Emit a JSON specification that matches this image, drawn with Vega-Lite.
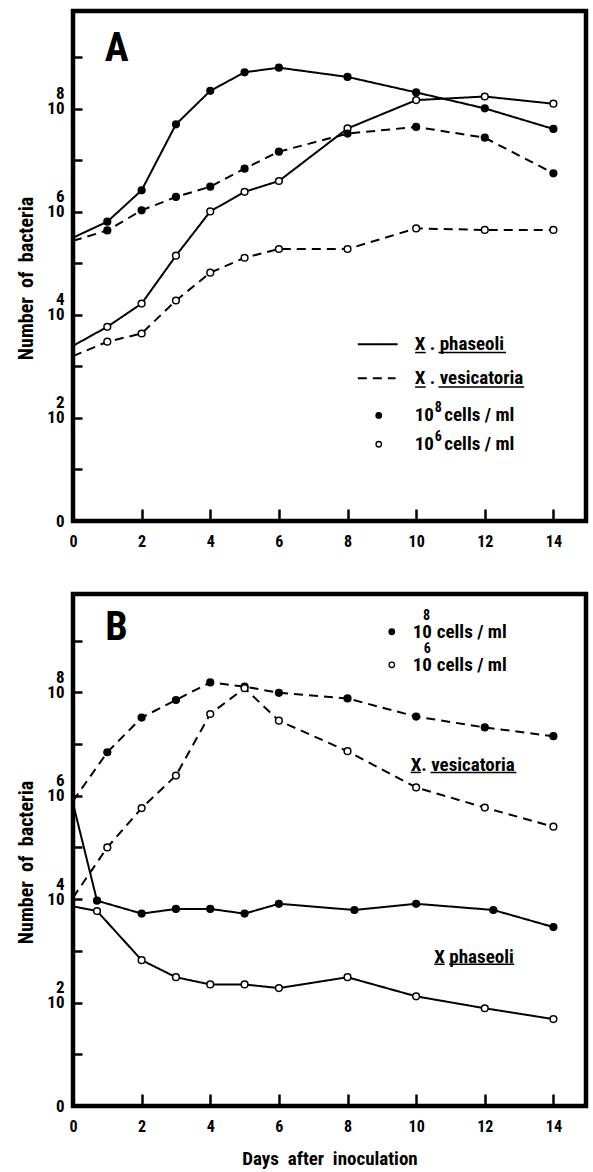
{
  "$schema": "https://vega.github.io/schema/vega-lite/v6.json",
  "background": "white",
  "padding": {"left": 13, "top": 8, "right": 4, "bottom": 0},
  "bounds": "flush",
  "spacing": 73,
  "config": {
    "font": "'Roboto Condensed', 'Liberation Sans', Arial, sans-serif",
    "view": {"stroke": "black", "strokeWidth": 4.5},
    "axis": {"domain": false, "grid": false, "labelColor": "black", "titleColor": "black", "tickColor": "black", "labelFontWeight": "bold", "titleFontWeight": "bold"}
  },
  "datasets": {
    "series": [
      {"panel": "A", "species": "X. phaseoli", "inoculum": "10^8 cells/ml", "day": 0, "log10_count": 5.50},
      {"panel": "A", "species": "X. phaseoli", "inoculum": "10^8 cells/ml", "day": 1, "log10_count": 5.81},
      {"panel": "A", "species": "X. phaseoli", "inoculum": "10^8 cells/ml", "day": 2, "log10_count": 6.42},
      {"panel": "A", "species": "X. phaseoli", "inoculum": "10^8 cells/ml", "day": 3, "log10_count": 7.70},
      {"panel": "A", "species": "X. phaseoli", "inoculum": "10^8 cells/ml", "day": 4, "log10_count": 8.35},
      {"panel": "A", "species": "X. phaseoli", "inoculum": "10^8 cells/ml", "day": 5, "log10_count": 8.71},
      {"panel": "A", "species": "X. phaseoli", "inoculum": "10^8 cells/ml", "day": 6, "log10_count": 8.80},
      {"panel": "A", "species": "X. phaseoli", "inoculum": "10^8 cells/ml", "day": 8, "log10_count": 8.62},
      {"panel": "A", "species": "X. phaseoli", "inoculum": "10^8 cells/ml", "day": 10, "log10_count": 8.32},
      {"panel": "A", "species": "X. phaseoli", "inoculum": "10^8 cells/ml", "day": 12, "log10_count": 8.01},
      {"panel": "A", "species": "X. phaseoli", "inoculum": "10^8 cells/ml", "day": 14, "log10_count": 7.61},
      {"panel": "A", "species": "X. phaseoli", "inoculum": "10^6 cells/ml", "day": 0, "log10_count": 3.40},
      {"panel": "A", "species": "X. phaseoli", "inoculum": "10^6 cells/ml", "day": 1, "log10_count": 3.77},
      {"panel": "A", "species": "X. phaseoli", "inoculum": "10^6 cells/ml", "day": 2, "log10_count": 4.22},
      {"panel": "A", "species": "X. phaseoli", "inoculum": "10^6 cells/ml", "day": 3, "log10_count": 5.15},
      {"panel": "A", "species": "X. phaseoli", "inoculum": "10^6 cells/ml", "day": 4, "log10_count": 6.01},
      {"panel": "A", "species": "X. phaseoli", "inoculum": "10^6 cells/ml", "day": 5, "log10_count": 6.39},
      {"panel": "A", "species": "X. phaseoli", "inoculum": "10^6 cells/ml", "day": 6, "log10_count": 6.60},
      {"panel": "A", "species": "X. phaseoli", "inoculum": "10^6 cells/ml", "day": 8, "log10_count": 7.62},
      {"panel": "A", "species": "X. phaseoli", "inoculum": "10^6 cells/ml", "day": 10, "log10_count": 8.17},
      {"panel": "A", "species": "X. phaseoli", "inoculum": "10^6 cells/ml", "day": 12, "log10_count": 8.24},
      {"panel": "A", "species": "X. phaseoli", "inoculum": "10^6 cells/ml", "day": 14, "log10_count": 8.10},
      {"panel": "A", "species": "X. vesicatoria", "inoculum": "10^8 cells/ml", "day": 0, "log10_count": 5.44},
      {"panel": "A", "species": "X. vesicatoria", "inoculum": "10^8 cells/ml", "day": 1, "log10_count": 5.64},
      {"panel": "A", "species": "X. vesicatoria", "inoculum": "10^8 cells/ml", "day": 2, "log10_count": 6.03},
      {"panel": "A", "species": "X. vesicatoria", "inoculum": "10^8 cells/ml", "day": 3, "log10_count": 6.29},
      {"panel": "A", "species": "X. vesicatoria", "inoculum": "10^8 cells/ml", "day": 4, "log10_count": 6.49},
      {"panel": "A", "species": "X. vesicatoria", "inoculum": "10^8 cells/ml", "day": 5, "log10_count": 6.84},
      {"panel": "A", "species": "X. vesicatoria", "inoculum": "10^8 cells/ml", "day": 6, "log10_count": 7.17},
      {"panel": "A", "species": "X. vesicatoria", "inoculum": "10^8 cells/ml", "day": 8, "log10_count": 7.52},
      {"panel": "A", "species": "X. vesicatoria", "inoculum": "10^8 cells/ml", "day": 10, "log10_count": 7.65},
      {"panel": "A", "species": "X. vesicatoria", "inoculum": "10^8 cells/ml", "day": 12, "log10_count": 7.44},
      {"panel": "A", "species": "X. vesicatoria", "inoculum": "10^8 cells/ml", "day": 14, "log10_count": 6.75},
      {"panel": "A", "species": "X. vesicatoria", "inoculum": "10^6 cells/ml", "day": 0, "log10_count": 3.20},
      {"panel": "A", "species": "X. vesicatoria", "inoculum": "10^6 cells/ml", "day": 1, "log10_count": 3.48},
      {"panel": "A", "species": "X. vesicatoria", "inoculum": "10^6 cells/ml", "day": 2, "log10_count": 3.64},
      {"panel": "A", "species": "X. vesicatoria", "inoculum": "10^6 cells/ml", "day": 3, "log10_count": 4.28},
      {"panel": "A", "species": "X. vesicatoria", "inoculum": "10^6 cells/ml", "day": 4, "log10_count": 4.82},
      {"panel": "A", "species": "X. vesicatoria", "inoculum": "10^6 cells/ml", "day": 5, "log10_count": 5.11},
      {"panel": "A", "species": "X. vesicatoria", "inoculum": "10^6 cells/ml", "day": 6, "log10_count": 5.28},
      {"panel": "A", "species": "X. vesicatoria", "inoculum": "10^6 cells/ml", "day": 8, "log10_count": 5.28},
      {"panel": "A", "species": "X. vesicatoria", "inoculum": "10^6 cells/ml", "day": 10, "log10_count": 5.68},
      {"panel": "A", "species": "X. vesicatoria", "inoculum": "10^6 cells/ml", "day": 12, "log10_count": 5.65},
      {"panel": "A", "species": "X. vesicatoria", "inoculum": "10^6 cells/ml", "day": 14, "log10_count": 5.65},
      {"panel": "B", "species": "X. vesicatoria", "inoculum": "10^8 cells/ml", "day": 0, "log10_count": 5.90},
      {"panel": "B", "species": "X. vesicatoria", "inoculum": "10^8 cells/ml", "day": 1, "log10_count": 6.84},
      {"panel": "B", "species": "X. vesicatoria", "inoculum": "10^8 cells/ml", "day": 2, "log10_count": 7.51},
      {"panel": "B", "species": "X. vesicatoria", "inoculum": "10^8 cells/ml", "day": 3, "log10_count": 7.85},
      {"panel": "B", "species": "X. vesicatoria", "inoculum": "10^8 cells/ml", "day": 4, "log10_count": 8.19},
      {"panel": "B", "species": "X. vesicatoria", "inoculum": "10^8 cells/ml", "day": 5, "log10_count": 8.11},
      {"panel": "B", "species": "X. vesicatoria", "inoculum": "10^8 cells/ml", "day": 6, "log10_count": 7.99},
      {"panel": "B", "species": "X. vesicatoria", "inoculum": "10^8 cells/ml", "day": 8, "log10_count": 7.88},
      {"panel": "B", "species": "X. vesicatoria", "inoculum": "10^8 cells/ml", "day": 10, "log10_count": 7.53},
      {"panel": "B", "species": "X. vesicatoria", "inoculum": "10^8 cells/ml", "day": 12, "log10_count": 7.32},
      {"panel": "B", "species": "X. vesicatoria", "inoculum": "10^8 cells/ml", "day": 14, "log10_count": 7.15},
      {"panel": "B", "species": "X. vesicatoria", "inoculum": "10^6 cells/ml", "day": 0, "log10_count": 4.03},
      {"panel": "B", "species": "X. vesicatoria", "inoculum": "10^6 cells/ml", "day": 1, "log10_count": 5.00},
      {"panel": "B", "species": "X. vesicatoria", "inoculum": "10^6 cells/ml", "day": 2, "log10_count": 5.76},
      {"panel": "B", "species": "X. vesicatoria", "inoculum": "10^6 cells/ml", "day": 3, "log10_count": 6.39},
      {"panel": "B", "species": "X. vesicatoria", "inoculum": "10^6 cells/ml", "day": 4, "log10_count": 7.58},
      {"panel": "B", "species": "X. vesicatoria", "inoculum": "10^6 cells/ml", "day": 5, "log10_count": 8.08},
      {"panel": "B", "species": "X. vesicatoria", "inoculum": "10^6 cells/ml", "day": 6, "log10_count": 7.45},
      {"panel": "B", "species": "X. vesicatoria", "inoculum": "10^6 cells/ml", "day": 8, "log10_count": 6.86},
      {"panel": "B", "species": "X. vesicatoria", "inoculum": "10^6 cells/ml", "day": 10, "log10_count": 6.16},
      {"panel": "B", "species": "X. vesicatoria", "inoculum": "10^6 cells/ml", "day": 12, "log10_count": 5.77},
      {"panel": "B", "species": "X. vesicatoria", "inoculum": "10^6 cells/ml", "day": 14, "log10_count": 5.40},
      {"panel": "B", "species": "X. phaseoli", "inoculum": "10^8 cells/ml", "day": 0, "log10_count": 5.85},
      {"panel": "B", "species": "X. phaseoli", "inoculum": "10^8 cells/ml", "day": 0.7, "log10_count": 3.97},
      {"panel": "B", "species": "X. phaseoli", "inoculum": "10^8 cells/ml", "day": 2, "log10_count": 3.72},
      {"panel": "B", "species": "X. phaseoli", "inoculum": "10^8 cells/ml", "day": 3, "log10_count": 3.81},
      {"panel": "B", "species": "X. phaseoli", "inoculum": "10^8 cells/ml", "day": 4, "log10_count": 3.81},
      {"panel": "B", "species": "X. phaseoli", "inoculum": "10^8 cells/ml", "day": 5, "log10_count": 3.72},
      {"panel": "B", "species": "X. phaseoli", "inoculum": "10^8 cells/ml", "day": 6, "log10_count": 3.91},
      {"panel": "B", "species": "X. phaseoli", "inoculum": "10^8 cells/ml", "day": 8.2, "log10_count": 3.79},
      {"panel": "B", "species": "X. phaseoli", "inoculum": "10^8 cells/ml", "day": 10, "log10_count": 3.91},
      {"panel": "B", "species": "X. phaseoli", "inoculum": "10^8 cells/ml", "day": 12.25, "log10_count": 3.79},
      {"panel": "B", "species": "X. phaseoli", "inoculum": "10^8 cells/ml", "day": 14, "log10_count": 3.46},
      {"panel": "B", "species": "X. phaseoli", "inoculum": "10^6 cells/ml", "day": 0, "log10_count": 3.86},
      {"panel": "B", "species": "X. phaseoli", "inoculum": "10^6 cells/ml", "day": 0.7, "log10_count": 3.77},
      {"panel": "B", "species": "X. phaseoli", "inoculum": "10^6 cells/ml", "day": 2, "log10_count": 2.82},
      {"panel": "B", "species": "X. phaseoli", "inoculum": "10^6 cells/ml", "day": 3, "log10_count": 2.49},
      {"panel": "B", "species": "X. phaseoli", "inoculum": "10^6 cells/ml", "day": 4, "log10_count": 2.35},
      {"panel": "B", "species": "X. phaseoli", "inoculum": "10^6 cells/ml", "day": 5, "log10_count": 2.35},
      {"panel": "B", "species": "X. phaseoli", "inoculum": "10^6 cells/ml", "day": 6, "log10_count": 2.28},
      {"panel": "B", "species": "X. phaseoli", "inoculum": "10^6 cells/ml", "day": 8, "log10_count": 2.49},
      {"panel": "B", "species": "X. phaseoli", "inoculum": "10^6 cells/ml", "day": 10, "log10_count": 2.12},
      {"panel": "B", "species": "X. phaseoli", "inoculum": "10^6 cells/ml", "day": 12, "log10_count": 1.89},
      {"panel": "B", "species": "X. phaseoli", "inoculum": "10^6 cells/ml", "day": 14, "log10_count": 1.68}
    ],
    "notes": [
      {"panel": "A", "role": "letter", "text": "A", "day": 1.27, "log10_count": 9.17},
      {"panel": "A", "role": "legend", "text": "X\u00a0.\u00a0phaseoli", "day": 9.96, "log10_count": 3.43},
      {"panel": "A", "role": "legend", "text": "X\u00a0.\u00a0vesicatoria", "day": 9.96, "log10_count": 2.77},
      {"panel": "A", "role": "legend", "text": "10", "day": 9.96, "log10_count": 2.05},
      {"panel": "A", "role": "legend", "text": "cells / ml", "day": 10.82, "log10_count": 2.05},
      {"panel": "A", "role": "legend", "text": "10", "day": 9.96, "log10_count": 1.49},
      {"panel": "A", "role": "legend", "text": "cells / ml", "day": 10.82, "log10_count": 1.49},
      {"panel": "A", "role": "super", "text": "8", "day": 10.54, "log10_count": 2.2},
      {"panel": "A", "role": "super", "text": "6", "day": 10.54, "log10_count": 1.64},
      {"panel": "B", "role": "letter", "text": "B", "day": 1.27, "log10_count": 9.25},
      {"panel": "B", "role": "legend", "text": "10", "day": 9.9, "log10_count": 9.17},
      {"panel": "B", "role": "legend", "text": "cells / ml", "day": 10.6, "log10_count": 9.17},
      {"panel": "B", "role": "legend", "text": "10", "day": 9.9, "log10_count": 8.53},
      {"panel": "B", "role": "legend", "text": "cells / ml", "day": 10.6, "log10_count": 8.53},
      {"panel": "B", "role": "super", "text": "8", "day": 10.2, "log10_count": 9.48},
      {"panel": "B", "role": "super", "text": "6", "day": 10.22, "log10_count": 8.84},
      {"panel": "B", "role": "legend", "text": "X. vesicatoria", "day": 9.84, "log10_count": 6.6},
      {"panel": "B", "role": "legend", "text": "X phaseoli", "day": 10.53, "log10_count": 2.89}
    ],
    "underlines": [
      {"panel": "A", "day": 9.97, "day_end": 10.28, "log10_count": 3.27},
      {"panel": "A", "day": 10.65, "day_end": 12.62, "log10_count": 3.27},
      {"panel": "A", "day": 9.97, "day_end": 10.28, "log10_count": 2.6},
      {"panel": "A", "day": 10.65, "day_end": 13.15, "log10_count": 2.6},
      {"panel": "B", "day": 9.84, "day_end": 10.14, "log10_count": 6.45},
      {"panel": "B", "day": 10.42, "day_end": 12.92, "log10_count": 6.45},
      {"panel": "B", "day": 10.53, "day_end": 10.83, "log10_count": 2.74},
      {"panel": "B", "day": 10.96, "day_end": 12.86, "log10_count": 2.74}
    ],
    "keylines": [
      {"panel": "A", "species": "X. phaseoli", "day": 8.3, "day_end": 9.46, "log10_count": 3.43},
      {"panel": "A", "species": "X. vesicatoria", "day": 8.3, "day_end": 9.4, "log10_count": 2.77}
    ],
    "keydots": [
      {"panel": "A", "inoculum": "10^8 cells/ml", "day": 8.91, "log10_count": 2.05},
      {"panel": "A", "inoculum": "10^6 cells/ml", "day": 8.91, "log10_count": 1.49},
      {"panel": "B", "inoculum": "10^8 cells/ml", "day": 9.29, "log10_count": 9.17},
      {"panel": "B", "inoculum": "10^6 cells/ml", "day": 9.29, "log10_count": 8.53}
    ]
  },
  "vconcat": [
    {
      "width": 513,
      "height": 510,
      "layer": [
        {
          "data": {"name": "series"},
          "transform": [{"filter": "datum.panel == 'A'"}],
          "mark": {"type": "line", "stroke": "black", "strokeWidth": 2},
          "encoding": {
            "x": {"field": "day", "type": "quantitative", "scale": {"domain": [0, 14.95], "nice": false, "zero": false},
              "axis": {"values": [0, 2, 4, 6, 8, 10, 12, 14], "format": "d", "title": null, "tickSize": -12, "tickWidth": 2.5, "labelPadding": 24, "labelFontSize": 16, "labelFlush": false, "labelOverlap": false}},
            "y": {"field": "log10_count", "type": "quantitative", "scale": {"domain": [0, 9.9], "nice": false, "zero": false},
              "axis": {"values": [0, 1, 2, 3, 4, 5, 6, 7, 8, 9], "labelExpr": "datum.value == 0 ? ['', '0'] : (datum.value % 2 == 0 ? ['' + datum.value, '10'] : '')", "labelLineHeight": 15, "labelOffset": -15, "labelFontSize": 17, "tickSize": -9, "tickWidth": 2.5, "labelPadding": 18, "labelOverlap": false, "labelFlush": false, "title": "Number\u00a0 of\u00a0 bacteria", "titleFontSize": 20, "titleX": -47, "titleY": 267, "titleAngle": -90, "titleAlign": "center", "titleBaseline": "middle"}},
            "detail": {"field": "inoculum"},
            "strokeDash": {"field": "species", "type": "nominal", "scale": {"domain": ["X. phaseoli", "X. vesicatoria"], "range": [[1, 0], [9, 6]]}, "legend": null}
          }
        },
        {
          "data": {"name": "series"},
          "transform": [{"filter": "datum.panel == 'A' && datum.day > 0"}],
          "mark": {"type": "point", "shape": "circle", "filled": true, "size": 45, "stroke": "black", "strokeWidth": 1.5, "opacity": 1},
          "encoding": {
            "x": {"field": "day", "type": "quantitative"},
            "y": {"field": "log10_count", "type": "quantitative"},
            "fill": {"field": "inoculum", "type": "nominal", "scale": {"domain": ["10^8 cells/ml", "10^6 cells/ml"], "range": ["black", "white"]}, "legend": null}
          }
        },
        {
          "data": {"name": "keylines"},
          "transform": [{"filter": "datum.panel == 'A'"}],
          "mark": {"type": "rule", "stroke": "black", "strokeWidth": 2},
          "encoding": {
            "x": {"field": "day", "type": "quantitative"},
            "x2": {"field": "day_end"},
            "y": {"field": "log10_count", "type": "quantitative"},
            "strokeDash": {"field": "species", "type": "nominal", "scale": {"domain": ["X. phaseoli", "X. vesicatoria"], "range": [[1, 0], [9, 6]]}, "legend": null}
          }
        },
        {
          "data": {"name": "keydots"},
          "transform": [{"filter": "datum.panel == 'A'"}],
          "mark": {"type": "point", "shape": "circle", "filled": true, "size": 30, "stroke": "black", "strokeWidth": 1.3, "opacity": 1},
          "encoding": {
            "x": {"field": "day", "type": "quantitative"},
            "y": {"field": "log10_count", "type": "quantitative"},
            "fill": {"field": "inoculum", "type": "nominal", "scale": {"domain": ["10^8 cells/ml", "10^6 cells/ml"], "range": ["black", "white"]}, "legend": null}
          }
        },
        {
          "data": {"name": "underlines"},
          "transform": [{"filter": "datum.panel == 'A'"}],
          "mark": {"type": "rule", "stroke": "black", "strokeWidth": 1.5},
          "encoding": {
            "x": {"field": "day", "type": "quantitative"},
            "x2": {"field": "day_end"},
            "y": {"field": "log10_count", "type": "quantitative"}
          }
        },
        {
          "data": {"name": "notes"},
          "transform": [{"filter": "datum.panel == 'A' && datum.role == 'letter'"}],
          "mark": {"type": "text", "fontSize": 40, "fontWeight": "bold", "align": "center", "baseline": "middle", "color": "black"},
          "encoding": {
            "x": {"field": "day", "type": "quantitative"},
            "y": {"field": "log10_count", "type": "quantitative"},
            "text": {"field": "text"}
          }
        },
        {
          "data": {"name": "notes"},
          "transform": [{"filter": "datum.panel == 'A' && datum.role == 'legend'"}],
          "mark": {"type": "text", "fontSize": 19, "fontWeight": "bold", "align": "left", "baseline": "middle", "color": "black"},
          "encoding": {
            "x": {"field": "day", "type": "quantitative"},
            "y": {"field": "log10_count", "type": "quantitative"},
            "text": {"field": "text"}
          }
        },
        {
          "data": {"name": "notes"},
          "transform": [{"filter": "datum.panel == 'A' && datum.role == 'super'"}],
          "mark": {"type": "text", "fontSize": 14, "fontWeight": "bold", "align": "left", "baseline": "middle", "color": "black"},
          "encoding": {
            "x": {"field": "day", "type": "quantitative"},
            "y": {"field": "log10_count", "type": "quantitative"},
            "text": {"field": "text"}
          }
        }
      ]
    },
    {
      "width": 513,
      "height": 512,
      "layer": [
        {
          "data": {"name": "series"},
          "transform": [{"filter": "datum.panel == 'B'"}],
          "mark": {"type": "line", "stroke": "black", "strokeWidth": 2},
          "encoding": {
            "x": {"field": "day", "type": "quantitative", "scale": {"domain": [0, 14.95], "nice": false, "zero": false},
              "axis": {"values": [0, 2, 4, 6, 8, 10, 12, 14], "format": "d", "title": "Days\u00a0 after\u00a0 inoculation", "titleFontSize": 19, "titleY": 43, "titleBaseline": "top", "tickSize": -12, "tickWidth": 2.5, "labelPadding": 24, "labelFontSize": 16, "labelFlush": false, "labelOverlap": false}},
            "y": {"field": "log10_count", "type": "quantitative", "scale": {"domain": [0, 9.9], "nice": false, "zero": false},
              "axis": {"values": [0, 1, 2, 3, 4, 5, 6, 7, 8, 9], "labelExpr": "datum.value == 0 ? ['', '0'] : (datum.value % 2 == 0 ? ['' + datum.value, '10'] : '')", "labelLineHeight": 15, "labelOffset": -15, "labelFontSize": 17, "tickSize": -9, "tickWidth": 2.5, "labelPadding": 18, "labelOverlap": false, "labelFlush": false, "title": "Number\u00a0 of\u00a0 bacteria", "titleFontSize": 20, "titleX": -47, "titleY": 268, "titleAngle": -90, "titleAlign": "center", "titleBaseline": "middle"}},
            "detail": {"field": "inoculum"},
            "strokeDash": {"field": "species", "type": "nominal", "scale": {"domain": ["X. phaseoli", "X. vesicatoria"], "range": [[1, 0], [9, 6]]}, "legend": null}
          }
        },
        {
          "data": {"name": "series"},
          "transform": [{"filter": "datum.panel == 'B' && datum.day > 0"}],
          "mark": {"type": "point", "shape": "circle", "filled": true, "size": 45, "stroke": "black", "strokeWidth": 1.5, "opacity": 1},
          "encoding": {
            "x": {"field": "day", "type": "quantitative"},
            "y": {"field": "log10_count", "type": "quantitative"},
            "fill": {"field": "inoculum", "type": "nominal", "scale": {"domain": ["10^8 cells/ml", "10^6 cells/ml"], "range": ["black", "white"]}, "legend": null}
          }
        },
        {
          "data": {"name": "keydots"},
          "transform": [{"filter": "datum.panel == 'B'"}],
          "mark": {"type": "point", "shape": "circle", "filled": true, "size": 30, "stroke": "black", "strokeWidth": 1.3, "opacity": 1},
          "encoding": {
            "x": {"field": "day", "type": "quantitative"},
            "y": {"field": "log10_count", "type": "quantitative"},
            "fill": {"field": "inoculum", "type": "nominal", "scale": {"domain": ["10^8 cells/ml", "10^6 cells/ml"], "range": ["black", "white"]}, "legend": null}
          }
        },
        {
          "data": {"name": "underlines"},
          "transform": [{"filter": "datum.panel == 'B'"}],
          "mark": {"type": "rule", "stroke": "black", "strokeWidth": 1.5},
          "encoding": {
            "x": {"field": "day", "type": "quantitative"},
            "x2": {"field": "day_end"},
            "y": {"field": "log10_count", "type": "quantitative"}
          }
        },
        {
          "data": {"name": "notes"},
          "transform": [{"filter": "datum.panel == 'B' && datum.role == 'letter'"}],
          "mark": {"type": "text", "fontSize": 40, "fontWeight": "bold", "align": "center", "baseline": "middle", "color": "black"},
          "encoding": {
            "x": {"field": "day", "type": "quantitative"},
            "y": {"field": "log10_count", "type": "quantitative"},
            "text": {"field": "text"}
          }
        },
        {
          "data": {"name": "notes"},
          "transform": [{"filter": "datum.panel == 'B' && datum.role == 'legend'"}],
          "mark": {"type": "text", "fontSize": 19, "fontWeight": "bold", "align": "left", "baseline": "middle", "color": "black"},
          "encoding": {
            "x": {"field": "day", "type": "quantitative"},
            "y": {"field": "log10_count", "type": "quantitative"},
            "text": {"field": "text"}
          }
        },
        {
          "data": {"name": "notes"},
          "transform": [{"filter": "datum.panel == 'B' && datum.role == 'super'"}],
          "mark": {"type": "text", "fontSize": 14, "fontWeight": "bold", "align": "left", "baseline": "middle", "color": "black"},
          "encoding": {
            "x": {"field": "day", "type": "quantitative"},
            "y": {"field": "log10_count", "type": "quantitative"},
            "text": {"field": "text"}
          }
        }
      ]
    }
  ]
}
